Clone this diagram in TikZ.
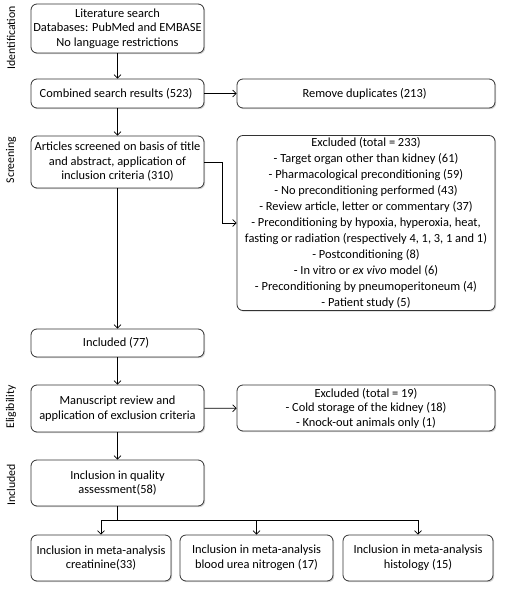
\documentclass[tikz,border=0pt]{standalone}
\usepackage{fontspec}
\setmainfont{Carlito}
\usepackage{tikz}
\usetikzlibrary{shadows,arrows.meta}

\begin{document}
\begin{tikzpicture}[
  x=1pt, y=-1pt,
  >={Straight Barb[length=3.5pt, width=7pt]},
  box/.style={
    rectangle,
    rounded corners=6pt,
    draw=black!80,
    fill=white,
    line width=0.8pt,
    align=center,
    inner sep=2pt,
    font=\fontsize{12.4}{14.5}\selectfont,
    drop shadow={shadow xshift=1.2pt, shadow yshift=-1.2pt, opacity=0.35}
  },
  phase/.style={
    rotate=90,
    font=\fontsize{11.8}{14}\selectfont
  },
  line/.style={
    line width=0.7pt,
    draw=black
  }
]
\useasboundingbox (0,0) rectangle (505,591);

% --- PHASES (left side) ---
\node[phase] (ident) at (11, 38) {Identification};
\node[phase] (screen) at (11, 160) {Screening};
\node[phase] (elig) at (11, 407) {Eligibility};
\node[phase] (incl) at (11, 485) {Included};

% --- MAIN COLUMN ---
\node[box, minimum width=173pt, minimum height=49pt] (search) at (117.5, 28.5) {
    Literature search\\
    Databases: PubMed and EMBASE\\
    No language restrictions
};

\node[box, minimum width=173pt, minimum height=29pt] (combined) at (117.5, 93.5) {
    Combined search results (523)
};

\node[box, minimum width=173pt, minimum height=52pt] (screened) at (117.5, 162) {
    Articles screened on basis of title\\
    and abstract, application of\\
    inclusion criteria (310)
};

\node[box, minimum width=173pt, minimum height=28pt] (included) at (117.5, 343) {
    Included (77)
};

\node[box, minimum width=173pt, minimum height=47pt] (review) at (117.5, 408.5) {
    Manuscript review and\\
    application of exclusion criteria
};

\node[box, minimum width=173pt, minimum height=46pt] (quality) at (117.5, 483) {
    Inclusion in quality\\
    assessment(58)
};

% --- RIGHT COLUMN ---
\node[box, minimum width=258pt, minimum height=29pt] (duplicates) at (366, 93.5) {
    Remove duplicates (213)
};

\node[box, minimum width=258pt, minimum height=174pt,
      font=\fontsize{12.4}{16}\selectfont] (excluded) at (366, 223) {
    Excluded (total = 233)\\
    - Target organ other than kidney (61)\\
    - Pharmacological preconditioning (59)\\
    - No preconditioning performed (43)\\
    - Review article, letter or commentary (37)\\
    - Preconditioning by hypoxia, hyperoxia, heat,\\
    fasting or radiation (respectively 4, 1, 3, 1 and 1)\\
    - Postconditioning (8)\\
    - In vitro or \textit{ex vivo} model (6)\\
    - Preconditioning by pneumoperitoneum (4)\\
    - Patient study (5)
};

\node[box, minimum width=258pt, minimum height=46pt] (excludedb) at (366, 408) {
    Excluded (total = 19)\\
    - Cold storage of the kidney (18)\\
    - Knock-out animals only (1)
};

% --- META-ANALYSIS ROW ---
\node[box, minimum width=140pt, minimum height=46pt] (creat) at (101, 558) {
    Inclusion in meta-analysis\\
    creatinine(33)
};

\node[box, minimum width=153pt, minimum height=46pt] (bun) at (256.5, 558) {
    Inclusion in meta-analysis\\
    blood urea nitrogen (17)
};

\node[box, minimum width=150pt, minimum height=46pt] (histo) at (418, 558) {
    Inclusion in meta-analysis\\
    histology (15)
};

% --- CONNECTORS ---
\draw[->, line] (search) -- (combined);
\draw[->, line] (combined) -- (duplicates);
\draw[->, line] (combined) -- (screened);
\draw[->, line] (screened.east) -- ++(18,0) |- (excluded.west);
\draw[->, line] (screened) -- (included);
\draw[->, line] (included) -- (review);
\draw[->, line] (review) -- (excludedb);
\draw[->, line] (review) -- (quality);

% fork to the three meta-analyses
\coordinate (fork) at (117.5, 520);
\draw[line] (quality) -- (fork);
\draw[->, line] (fork) -| (creat.north);
\draw[->, line] (fork) -| (bun.north);
\draw[->, line] (fork) -| (histo.north);

\end{tikzpicture}
\end{document}
